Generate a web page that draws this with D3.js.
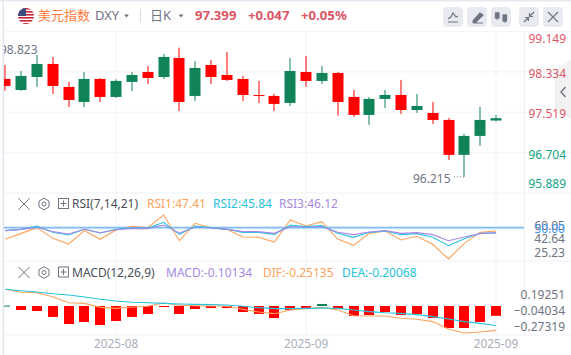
<!DOCTYPE html>
<html>
<head>
<meta charset="utf-8">
<script src="https://cdn.jsdelivr.net/npm/d3@7"></script>
<style>
    html, body { margin: 0; padding: 0; background: #fff; overflow: hidden; }
    svg { display: block; }
    text { font-family: "Noto Sans", "Noto Sans CJK SC", sans-serif; }
</style>
</head>
<body>
<script>
var width = 571, height = 355;

// candles, oldest first
var opens  = [98.191,97.969,98.231,98.494,98.030,97.727,98.191,97.828,98.131,98.332,98.231,98.615,97.848,98.473,98.272,98.191,97.868,97.848,97.707,98.332,98.151,98.312,97.828,97.465,97.788,97.868,97.565,97.505,97.364,96.658,97.041,97.352];
var highs  = [98.473,98.352,98.675,98.635,98.131,98.332,98.211,98.185,98.332,98.453,98.695,98.823,98.554,98.574,98.736,98.252,98.151,97.888,98.615,98.655,98.453,98.332,97.969,97.828,97.969,98.171,97.888,97.727,97.404,97.082,97.626,97.465];
var lows   = [97.955,97.949,98.030,97.888,97.626,97.626,97.727,97.808,97.949,98.090,98.191,97.545,97.747,98.090,98.151,97.747,97.707,97.545,97.646,98.030,98.090,97.451,97.424,97.263,97.606,97.485,97.505,97.283,96.557,96.215,96.840,97.332];
var closes = [98.050,98.252,98.494,98.050,97.767,98.191,97.828,98.151,98.272,98.211,98.635,97.727,98.413,98.231,98.171,97.868,97.854,97.687,98.352,98.151,98.312,97.727,97.465,97.788,97.868,97.565,97.646,97.364,96.658,97.041,97.364,97.399];

var rsi1 = [40.79,45.50,50.03,41.58,37.10,47.65,40.79,48.18,51.08,50.03,60.05,39.74,53.46,50.03,48.71,42.64,42.38,38.68,56.09,51.34,54.77,41.06,36.04,45.54,47.39,40.27,43.17,36.84,25.23,37.63,46.33,47.41];
var rsi2 = [47.65,48.71,51.34,46.33,44.22,48.71,45.81,48.71,50.03,49.50,54.25,44.75,51.34,50.03,48.71,46.33,46.33,44.75,52.14,50.82,51.61,45.54,42.38,46.33,47.39,44.49,45.28,42.38,35.78,41.32,45.54,45.84];
var rsi3 = [47.65,48.71,50.29,46.86,45.01,48.71,46.07,48.44,49.50,49.24,52.14,45.81,50.55,49.76,48.71,46.86,46.86,45.54,50.82,50.29,50.82,46.33,44.49,46.59,47.65,45.54,46.07,44.49,39.74,42.64,45.28,46.12];

var hist = [0.004,-0.041,-0.052,-0.113,-0.186,-0.165,-0.196,-0.155,-0.113,-0.082,-0.010,-0.082,-0.031,-0.021,-0.021,-0.062,-0.082,-0.124,-0.041,-0.031,0.021,-0.031,-0.103,-0.093,-0.062,-0.093,-0.082,-0.124,-0.227,-0.227,-0.165,-0.10134];
var dif  = [0.172,0.141,0.137,0.096,0.034,0.027,-0.014,-0.024,-0.010,-0.003,0.031,0.007,0.003,0,-0.003,-0.034,-0.062,-0.079,-0.041,-0.027,-0.014,-0.041,-0.100,-0.103,-0.103,-0.127,-0.137,-0.161,-0.237,-0.278,-0.268,-0.25135];
var dea  = [0.172,0.158,0.144,0.127,0.113,0.093,0.069,0.052,0.038,0.034,0.027,0.021,0.017,0.014,0.010,-0.003,-0.017,-0.027,-0.027,-0.024,-0.021,-0.024,-0.041,-0.058,-0.069,-0.076,-0.089,-0.110,-0.134,-0.161,-0.179,-0.20068];

var priceTicks = [99.149,98.334,97.519,96.704,95.889];
var rsiTicks   = [60.05,42.64,25.23];
var macdTicks  = [0.19251,-0.04034,-0.27319];
var monthTicks = [{i:7,label:"2025-08"},{i:19,label:"2025-09"},{i:31,label:"2025-09"}];

var red = "#ff0000", green = "#108458";
var textRed = "#dc5566", textGreen = "#13a585", gray = "#6f7482";
var orange = "#ffa35c", cyan = "#27c2dc", purple = "#a68ae2", blue = "#5fabf0";
var gridColor = "#f4f5f9";
var plotRight = 524.5;

var svg = d3.select("body").append("svg")
    .attr("width", width)
    .attr("height", height);

var defs = svg.append("defs");
defs.append("clipPath").attr("id", "plot")
    .append("rect").attr("x", 4).attr("y", 0).attr("width", plotRight - 4).attr("height", height);
defs.append("clipPath").attr("id", "flag")
    .append("circle").attr("cx", 26).attr("cy", 16).attr("r", 8);

var xScale = d3.scaleLinear().domain([0, 31]).range([5.3, 496]);
var priceY = d3.scaleLinear().domain([95.889, 99.149]).range([193, 31.5]);
var rsiY = d3.scaleLinear().domain([25.23, 60.05]).range([259, 215]);
var macdY = d3.scaleLinear().domain([-0.3, 0.2]).range([335.1, 286.6]);
// the axis labels on the two lower panes are packed tighter than the lines
var rsiLabelY = d3.scaleLinear().domain([25.23, 60.05]).range([252.5, 226]);
var macdLabelY = d3.scaleLinear().domain([-0.27319, 0.19251]).range([326.7, 294.7]);

// frame
svg.append("rect").attr("x", 0).attr("y", 0).attr("width", width).attr("height", 1.5).attr("fill", "#e6e9f2");
svg.append("rect").attr("x", 2.5).attr("y", 0).attr("width", 1.5).attr("height", height).attr("fill", "#e3e7ef");

// grid
var grid = svg.append("g").attr("stroke", gridColor).attr("stroke-width", 1.2);
priceTicks.forEach(function(t) {
    grid.append("line").attr("x1", 4).attr("x2", width).attr("y1", priceY(t)).attr("y2", priceY(t));
});
[261, 335].forEach(function(y) {
    grid.append("line").attr("x1", 4).attr("x2", width).attr("y1", y).attr("y2", y).attr("stroke", "#eff1f6");
});
grid.select("line:nth-child(5)").attr("stroke", "#eff1f6");
monthTicks.forEach(function(t) {
    grid.append("line").attr("x1", xScale(t.i)).attr("x2", xScale(t.i)).attr("y1", 32).attr("y2", 335);
});
grid.append("line").attr("x1", plotRight).attr("x2", plotRight).attr("y1", 32).attr("y2", 335).attr("stroke", "#f0f1f6");

// collapse tab on the right, sits under the price labels
svg.append("path")
    .attr("d", "M571,60 L555,70 V108 L571,119 Z")
    .attr("fill", "#f1f1f2");
svg.append("path")
    .attr("d", "M565.5,87 L561,92 L565.5,97")
    .attr("fill", "none").attr("stroke", gray).attr("stroke-width", 1.4);

// candles
var candles = svg.append("g").attr("clip-path", "url(#plot)")
    .selectAll("g")
    .data(d3.range(opens.length))
    .enter()
    .append("g")
    .attr("fill", function(i) { return closes[i] > opens[i] ? green : red; })
    .attr("stroke", "none");

candles.append("rect")
    .attr("x", function(i) { return Math.round(xScale(i)) - 0.5; })
    .attr("width", 1)
    .attr("y", function(i) { return priceY(highs[i]); })
    .attr("height", function(i) { return priceY(lows[i]) - priceY(highs[i]); });

candles.append("rect")
    .attr("x", function(i) { return Math.round(xScale(i)) - 5.5; })
    .attr("width", 11)
    .attr("y", function(i) { return priceY(Math.max(opens[i], closes[i])); })
    .attr("height", function(i) { return Math.max(1, Math.abs(priceY(opens[i]) - priceY(closes[i]))); });

// price labels
svg.selectAll(".price-label")
    .data(priceTicks)
    .enter()
    .append("text")
    .attr("class", "price-label")
    .attr("x", 566)
    .attr("y", function(d, i) { return [39, 73.5, 113.5, 154.5, 183.5][i]; })
    .attr("dy", "0.35em")
    .attr("text-anchor", "end")
    .attr("font-size", 12)
    .attr("fill", function(d, i) { return i < 3 ? textRed : textGreen; })
    .text(function(d) { return d3.format(".3f")(d); });

// high / low callouts
svg.append("g").attr("clip-path", "url(#plot)")
    .append("text").attr("x", 0).attr("y", 54).attr("font-size", 12).attr("fill", gray).text("98.823");
svg.append("text").attr("x", 413).attr("y", 183).attr("font-size", 12).attr("fill", gray).text("96.215");
svg.append("line")
    .attr("x1", 454).attr("x2", 464)
    .attr("y1", priceY(96.215)).attr("y2", priceY(96.215))
    .attr("stroke", gray).attr("stroke-width", 1).attr("stroke-dasharray", "1 2");

// RSI
var rsiLine = d3.line()
    .x(function(d, i) { return xScale(i); })
    .y(function(d) { return rsiY(d); });

var rsiPane = svg.append("g").attr("clip-path", "url(#plot)").attr("fill", "none");
rsiPane.append("line")
    .attr("x1", 4).attr("x2", plotRight)
    .attr("y1", rsiY(50)).attr("y2", rsiY(50))
    .attr("stroke", "#cfe5fa").attr("stroke-width", 3);
[[rsi1, orange], [rsi2, cyan], [rsi3, purple]].forEach(function(s) {
    rsiPane.append("path").attr("d", rsiLine(s[0])).attr("stroke", s[1]).attr("stroke-width", 1.1);
});
rsiPane.append("line")
    .attr("x1", 4).attr("x2", plotRight)
    .attr("y1", rsiY(50)).attr("y2", rsiY(50))
    .attr("stroke", blue).attr("stroke-width", 1).attr("opacity", 0.85);

svg.selectAll(".rsi-label")
    .data(rsiTicks)
    .enter()
    .append("text")
    .attr("class", "rsi-label")
    .attr("x", 565)
    .attr("y", function(d) { return rsiLabelY(d); })
    .attr("dy", "0.35em")
    .attr("text-anchor", "end")
    .attr("font-size", 12)
    .attr("fill", gray)
    .text(function(d) { return d3.format(".2f")(d); });
svg.append("text")
    .attr("x", 565).attr("y", 229).attr("dy", "0.35em")
    .attr("text-anchor", "end").attr("font-size", 12)
    .attr("fill", "#3f97ee")
    .text("50.00");

// MACD
var macdPane = svg.append("g").attr("clip-path", "url(#plot)");
macdPane.selectAll("rect")
    .data(hist)
    .enter()
    .append("rect")
    .attr("x", function(d, i) { return Math.round(xScale(i)) - 5; })
    .attr("width", 10)
    .attr("y", function(d) { return macdY(Math.max(d, 0)); })
    .attr("height", function(d) { return Math.max(1, Math.abs(macdY(d) - macdY(0))); })
    .attr("fill", function(d) { return d > 0 ? green : red; });

var macdLine = d3.line()
    .x(function(d, i) { return xScale(i); })
    .y(function(d) { return macdY(d); });
[[dif, orange], [dea, cyan]].forEach(function(s) {
    macdPane.append("path")
        .attr("d", macdLine(s[0]))
        .attr("fill", "none")
        .attr("stroke", s[1])
        .attr("stroke-width", 1.1);
});

svg.selectAll(".macd-label")
    .data(macdTicks)
    .enter()
    .append("text")
    .attr("class", "macd-label")
    .attr("x", 565)
    .attr("y", function(d) { return macdLabelY(d); })
    .attr("dy", "0.35em")
    .attr("text-anchor", "end")
    .attr("font-size", 12)
    .attr("fill", gray)
    .text(function(d) { return d3.format(".5f")(d); });

// time axis
svg.selectAll(".month-label")
    .data(monthTicks)
    .enter()
    .append("text")
    .attr("class", "month-label")
    .attr("x", function(d) { return xScale(d.i); })
    .attr("y", 347.5)
    .attr("text-anchor", "middle")
    .attr("font-size", 11.8)
    .attr("fill", "#a9adba")
    .text(function(d) { return d.label; });

// header
var flag = svg.append("g").attr("clip-path", "url(#flag)");
flag.append("rect").attr("x", 18).attr("y", 8).attr("width", 16).attr("height", 16).attr("fill", "#fff");
d3.range(0, 16, 3).forEach(function(o) {
    flag.append("rect").attr("x", 18).attr("y", 8 + o).attr("width", 16).attr("height", 1.6).attr("fill", "#c8243a");
});
flag.append("rect").attr("x", 18).attr("y", 8).attr("width", 8).attr("height", 8).attr("fill", "#3d4a7c");

function headerText(x, str, fill, size, weight) {
    return svg.append("text")
        .attr("x", x).attr("y", 20)
        .attr("font-size", size)
        .attr("font-weight", weight || "normal")
        .attr("fill", fill)
        .text(str);
}
headerText(38, "美元指数", "#ff7a3d", 13);
headerText(95, "DXY", gray, 13);
headerText(150, "日K", gray, 13);
headerText(195, "97.399", textRed, 13.2, "bold");
headerText(248, "+0.047", textRed, 13.2, "bold");
headerText(301, "+0.05%", textRed, 13.2, "bold");

function caret(x, y) {
    svg.append("path")
        .attr("d", "M" + (x - 2.5) + "," + y + "h5l-2.5,3z")
        .attr("fill", gray);
}
caret(126.5, 14.5);
caret(181, 14.5);
svg.append("line").attr("x1", 140.5).attr("x2", 140.5).attr("y1", 9).attr("y2", 22).attr("stroke", "#d9dce4");

// toolbar buttons
[443, 467, 491, 519, 543].forEach(function(x) {
    svg.append("rect")
        .attr("x", x).attr("y", 7).attr("width", 20).attr("height", 20).attr("rx", 4)
        .attr("fill", "#e8eaf0");
});
var icons = svg.append("g").attr("fill", "none").attr("stroke", gray).attr("stroke-width", 1.2);
icons.append("path").attr("d", "M448,19 L451,17 L453,13 L456,17 L458,16 M448,22 H458");
icons.append("path").attr("d", "M473,21 L480,13 L483,15 L476,22 H473 Z M473,23 H483").attr("fill", gray);
icons.append("path").attr("d", "M497,12 V20 M505,14 V23").attr("stroke-width", 1);
icons.append("rect").attr("x", 495.5).attr("y", 13).attr("width", 3.5).attr("height", 5).attr("fill", gray);
icons.append("rect").attr("x", 503).attr("y", 15).attr("width", 3.5).attr("height", 6).attr("fill", gray);
icons.append("path").attr("d", "M524,22 L528,18 M525,17.5 H528.5 V21 M534,12 L530,16 M533,16.5 H529.5 V13");
icons.append("path").attr("d", "M548,12 L558,22 M558,12 L548,22");

// pane headers
function paneHeader(y) {
    var g = svg.append("g").attr("fill", "none").attr("stroke", gray).attr("stroke-width", 1);
    g.append("path").attr("d", "M18.5," + (y - 5.5) + " l11,11 m0,-11 l-11,11");
    var hex = d3.range(6).map(function(k) {
        var a = Math.PI / 3 * k + Math.PI / 6;
        return [44 + 5.8 * Math.cos(a), y + 5.8 * Math.sin(a)];
    });
    g.append("path").attr("d", "M" + hex.join("L") + "Z");
    g.append("circle").attr("cx", 44).attr("cy", y).attr("r", 2);
    g.append("rect").attr("x", 58.5).attr("y", y - 5.5).attr("width", 10).attr("height", 10);
    g.append("path").attr("d", "M60.5," + (y - 0.5) + " h6 M63.5," + (y - 3.5) + " v6");
}
paneHeader(204);
paneHeader(272.5);

function paneText(x, y, str, fill) {
    svg.append("text").attr("x", x).attr("y", y)
        .attr("dy", "0.35em")
        .attr("font-size", 12)
        .attr("fill", fill)
        .text(str);
}
paneText(72, 204, "RSI(7,14,21)", "#4a4e5a");
paneText(147, 204, "RSI1:47.41", orange);
paneText(213, 204, "RSI2:45.84", cyan);
paneText(279, 204, "RSI3:46.12", purple);
paneText(72, 272.5, "MACD(12,26,9)", "#4a4e5a");
paneText(166, 272.5, "MACD:-0.10134", purple);
paneText(263, 272.5, "DIF:-0.25135", orange);
paneText(342, 272.5, "DEA:-0.20068", cyan);
</script>
</body>
</html>
